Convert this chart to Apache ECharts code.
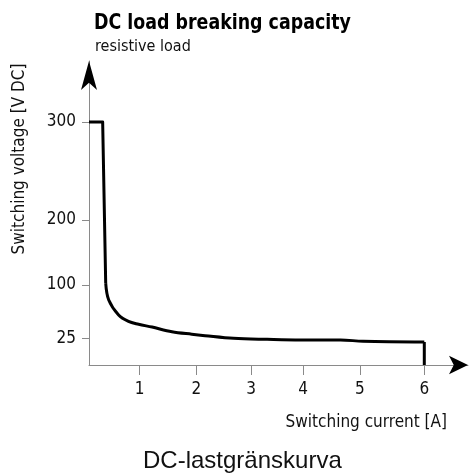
<!DOCTYPE html>
<html>
<head>
<meta charset="utf-8">
<script src="https://cdn.jsdelivr.net/npm/echarts@6/dist/echarts.min.js"></script>
<style>
html,body{margin:0;padding:0;background:#fff;}
#c{width:469px;height:476px;}
</style>
</head>
<body>
<div id="c"></div>
<script>
// ---- data (switching current [A], switching voltage [V DC]) ----
const currentA = [0, 0.27, 0.33, 0.39, 0.585, 0.78, 0.98, 1.22, 1.57, 1.92, 2.16, 2.68, 3.31, 3.95, 4.66, 5.05, 6.0, 6.0];
const voltageV = [300, 300, 103, 79, 58, 49, 45, 41, 34.5, 31, 29, 25.3, 24.2, 23.6, 23.6, 22.4, 21.7, 0];

// ---- tick labels ----
const xTickValues = [1, 2, 3, 4, 5, 6];
const yTickValues = [25, 100, 200, 300];

// ---- texts ----
const titleText = 'DC load breaking capacity';
const subtitleText = 'resistive load';
const yAxisName = 'Switching voltage [V DC]';
const xAxisName = 'Switching current [A]';
const captionText = 'DC-lastgränskurva';

// ---- schematic (non-linear) axis scales: value -> axis units ----
const xScaleValues = [0, 1, 2, 3, 4, 5, 6];
const xScaleUnits  = [0, 50.6, 107.3, 162, 214, 270.8, 335.3];
const yScaleValues = [0, 25, 100, 200, 300];
const yScaleUnits  = [0, 26.5, 80, 145, 243];

function piece(v, vals, units) {
  let i = 0;
  while (i < vals.length - 2 && v > vals[i + 1]) i++;
  const t = (v - vals[i]) / (vals[i + 1] - vals[i]);
  return units[i] + t * (units[i + 1] - units[i]);
}
const mapX = v => piece(v, xScaleValues, xScaleUnits);
const mapY = v => piece(v, yScaleValues, yScaleUnits);

const lineData = currentA.map((a, i) => [mapX(a), mapY(voltageV[i])]);
const n = lineData.length;
const xTickUnits = xTickValues.map(mapX);
const yTickUnits = yTickValues.map(mapY);
function labelFor(u, units, vals) {
  let best = 0;
  for (let i = 0; i < units.length; i++) if (Math.abs(units[i] - u) < Math.abs(units[best] - u)) best = i;
  return String(vals[best]);
}

const COND = '"Liberation Sans Narrow", "DejaVu Sans Condensed", "Roboto", sans-serif';
const AXIS_COLOR = '#8a8a8a';
const X_MAX = 379, Y_MAX = 304;

const baseX = {
  type: 'value', min: 0, max: X_MAX, position: 'bottom',
  axisLine: {show: true, lineStyle: {color: AXIS_COLOR, width: 1}},
  axisTick: {show: true, customValues: xTickUnits, length: 10, lineStyle: {color: AXIS_COLOR}},
  axisLabel: {customValues: xTickUnits, margin: 16, fontFamily: COND, fontSize: 17, color: '#111',
    formatter: v => labelFor(v, xTickUnits, xTickValues)},
  splitLine: {show: false}
};
const arrowX = {
  type: 'value', min: 0, max: X_MAX, position: 'bottom', offset: 0,
  axisLine: {show: true, symbol: ['none', 'arrow'], symbolSize: [14, 19], lineStyle: {color: '#000', width: 0}},
  axisTick: {show: false}, axisLabel: {show: false}, splitLine: {show: false}
};
const baseY = {
  type: 'value', min: 0, max: Y_MAX, position: 'left',
  axisLine: {show: true, lineStyle: {color: AXIS_COLOR, width: 1}},
  axisTick: {show: true, customValues: yTickUnits, length: 7, lineStyle: {color: AXIS_COLOR}},
  axisLabel: {customValues: yTickUnits, margin: 13, fontFamily: COND, fontSize: 17, color: '#111',
    formatter: v => labelFor(v, yTickUnits, yTickValues)},
  splitLine: {show: false}
};
const arrowY = {
  type: 'value', min: 0, max: Y_MAX, position: 'left', offset: 0,
  axisLine: {show: true, symbol: ['none', 'arrow'], symbolSize: [12, 29], lineStyle: {color: '#000', width: 0}},
  axisTick: {show: false}, axisLabel: {show: false}, splitLine: {show: false}
};

const lineStyle = {color: '#000', width: 3, join: 'round', cap: 'butt'};

const chart = echarts.init(document.getElementById('c'), null, {renderer: 'canvas'});
chart.setOption({
  animation: false,
  backgroundColor: '#fff',
  grid: {left: 89, right: 1, top: 61, bottom: 111, containLabel: false},
  xAxis: [baseX, arrowX],
  yAxis: [baseY, arrowY],
  graphic: [
    {type: 'text', x: 94, y: 23, scaleX: 0.88,
      style: {text: titleText, fontFamily: COND, fontWeight: 'bold', fontSize: 22, fill: '#000', align: 'left', verticalAlign: 'middle'}},
    {type: 'text', x: 95, y: 47,
      style: {text: subtitleText, fontFamily: COND, fontSize: 16, fill: '#111', align: 'left', verticalAlign: 'middle'}},
    {type: 'text', x: 20, y: 159, rotation: Math.PI / 2,
      style: {text: yAxisName, fontFamily: COND, fontSize: 17, fill: '#111', align: 'center', verticalAlign: 'middle'}},
    {type: 'text', x: 447, y: 423,
      style: {text: xAxisName, fontFamily: COND, fontSize: 17, fill: '#111', align: 'right', verticalAlign: 'middle'}},
    {type: 'text', x: 143, y: 461,
      style: {text: captionText, fontFamily: '"Liberation Sans", Arial, sans-serif', fontSize: 24, fill: '#111', align: 'left', verticalAlign: 'middle'}}
  ],
  series: [
    {type: 'line', data: lineData.slice(0, 3), showSymbol: false, smooth: false, lineStyle, z: 5},
    {type: 'line', data: lineData.slice(2, n - 1), showSymbol: false, smooth: 0.35, lineStyle, z: 5},
    {type: 'line', data: lineData.slice(n - 2), showSymbol: false, smooth: false, lineStyle, z: 5}
  ]
});
</script>
</body>
</html>
